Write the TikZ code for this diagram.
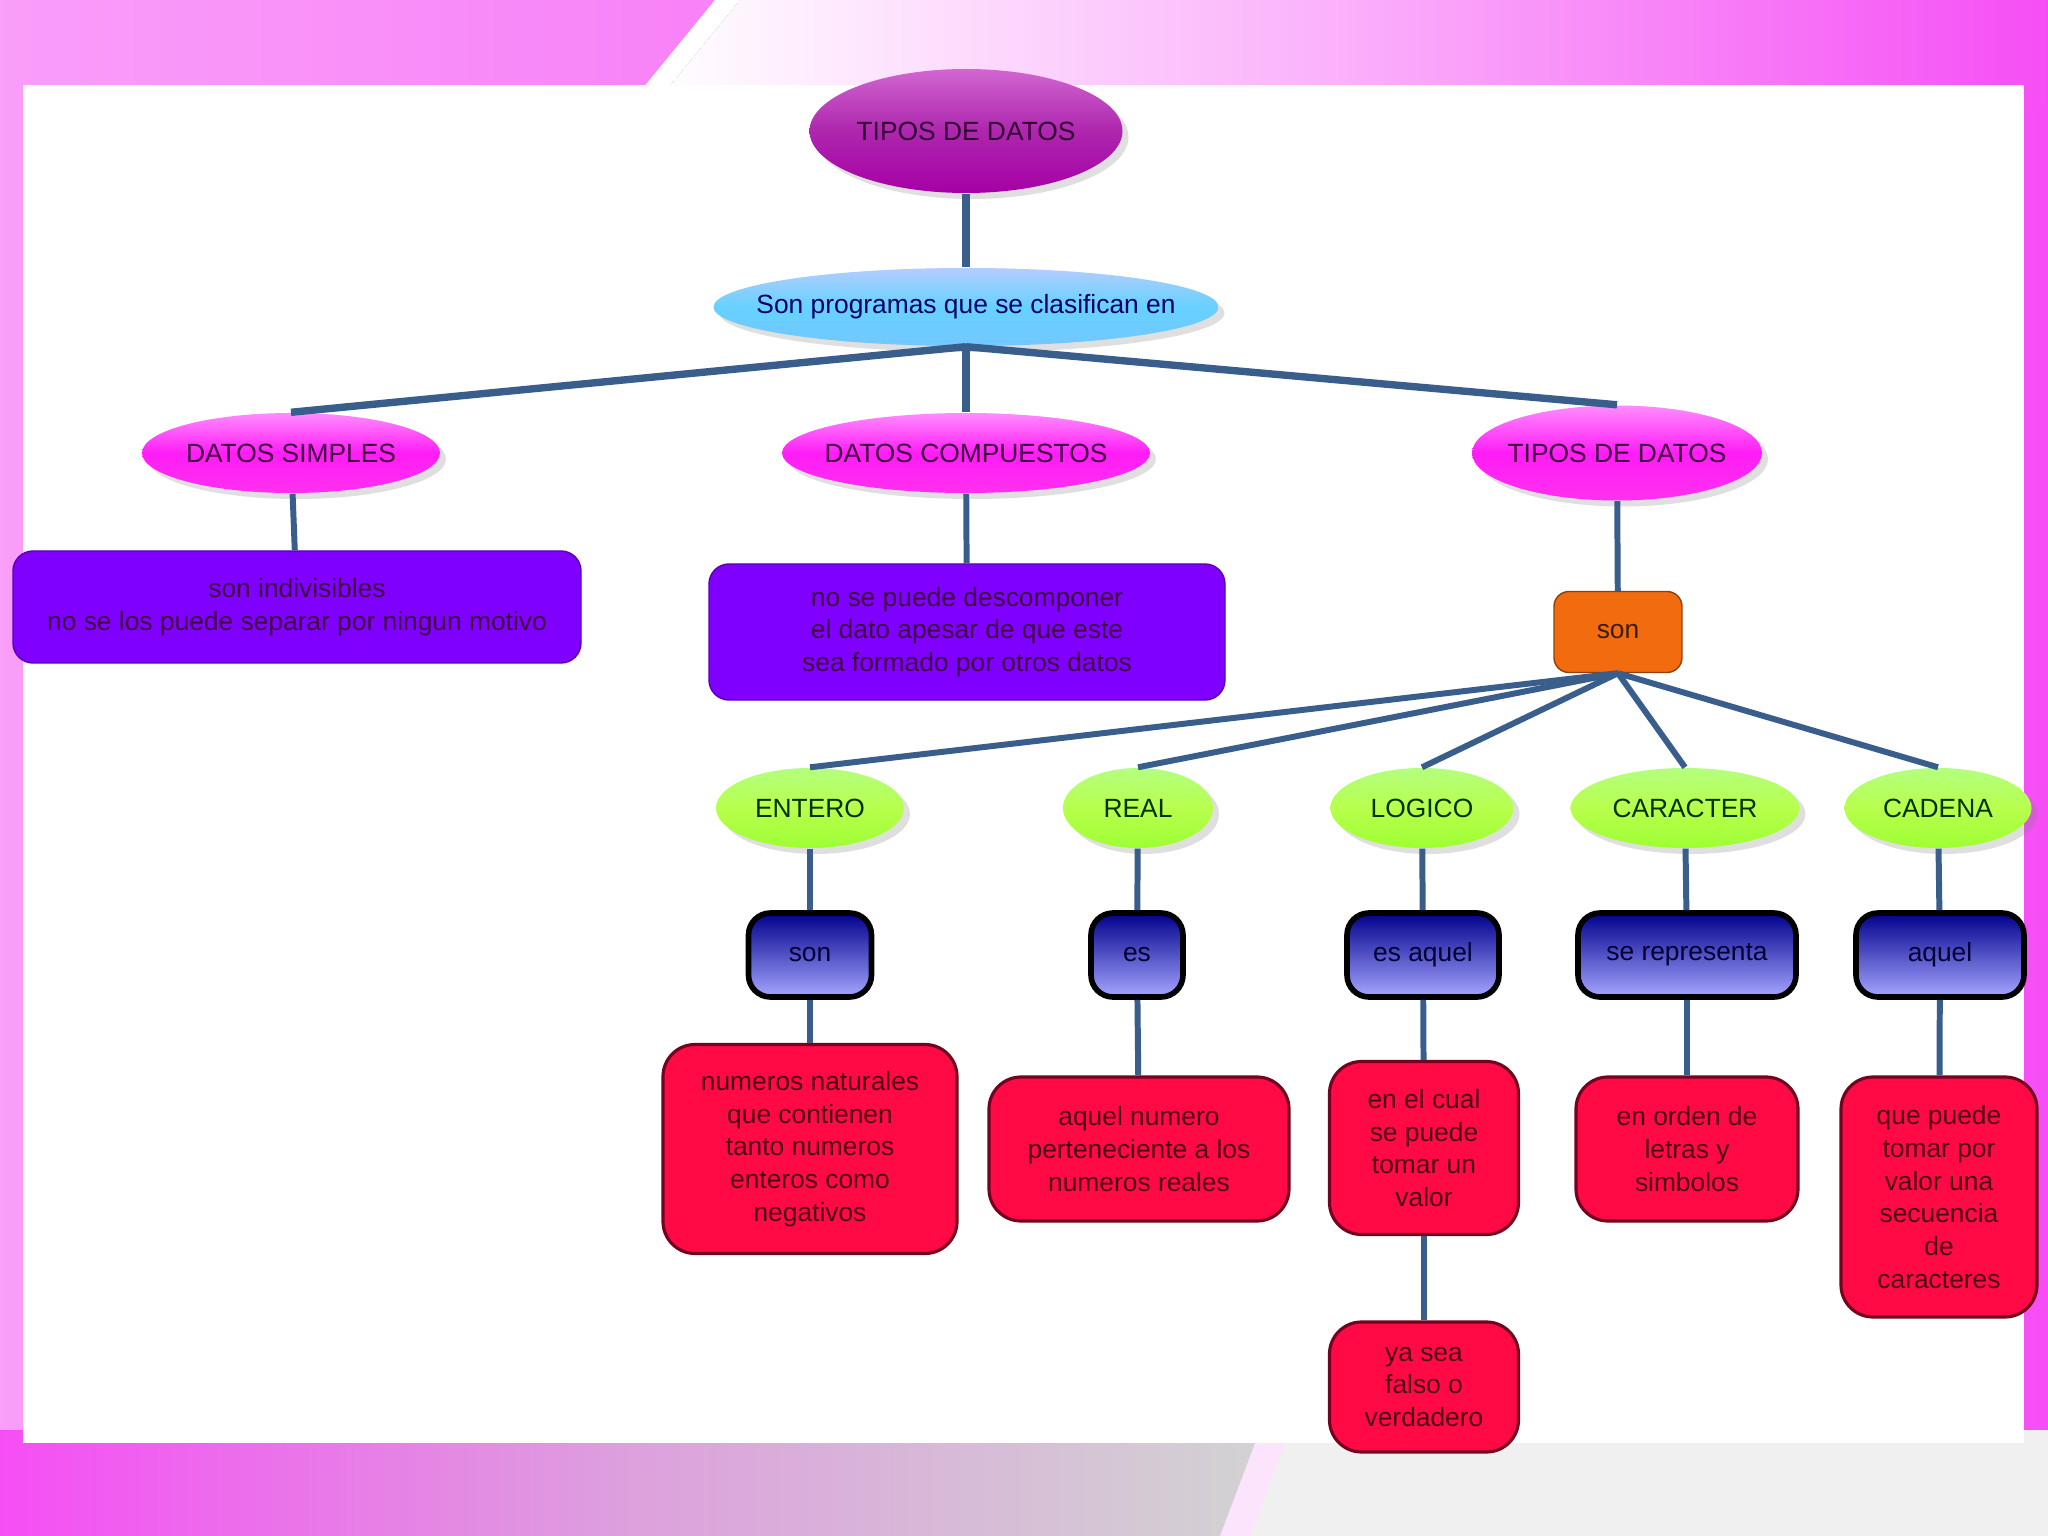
\documentclass[tikz,border=0pt]{standalone}
\usepackage{fontspec}
\setmainfont{Liberation Sans}
\usetikzlibrary{shapes.geometric,shadows}
\definecolor{linkblue}{HTML}{3A5E8C}
\definecolor{frame}{HTML}{F54EF5}
\definecolor{vio}{HTML}{7F00FF}
\definecolor{rojo}{HTML}{FF0A45}
\definecolor{naranja}{HTML}{F26B0F}

\tikzset{
  box/.style={font=\fontsize{7.5}{9.3}\selectfont, inner sep=0pt, align=center},
  glow/.style={drop shadow={opacity=.25,shadow xshift=.06,shadow yshift=-.06}},
  link/.style={draw=linkblue, line width=1.7pt},
  topell/.style={box, ellipse, glow, minimum width=3.13cm, minimum height=1.24cm,
    top color=violet!60!magenta!60, bottom color=violet!70!magenta, middle color=violet!75!magenta!85, text=violet!40!black},
  clsell/.style={box, ellipse, glow, inner xsep=-.4cm, minimum width=5.05cm, minimum height=.78cm,
    top color=cyan!35!blue!30, bottom color=cyan!60!blue!55, middle color=cyan!70!blue!60, text=blue!40!black},
  pinkell/.style={box, ellipse, glow, inner xsep=-.4cm, minimum height=.8cm,
    top color=magenta!45, bottom color=magenta!75!pink, middle color=magenta!85!pink, text=violet!50!black},
  greenell/.style={box, ellipse, glow, minimum height=.8cm,
    top color=lime!55!green!50, bottom color=lime!70!green!80, middle color=lime!80!green!70, text=green!20!black},
  violetbox/.style={box, rounded corners=.2cm, fill=vio, draw=vio!70!black, text=violet!50!black},
  sonbox/.style={box, rounded corners=.15cm, fill=naranja, draw=naranja!60!black, text=naranja!25!black},
  pill/.style={box, rounded corners=.22cm, draw=black, line width=1.6pt, minimum height=.84cm,
    top color=blue!55!black, middle color=blue!45!white!85!black, bottom color=blue!35!white, text=blue!20!black},
  redbox/.style={box, rounded corners=.32cm, fill=rojo, draw=rojo!45!black, line width=.9pt, text=rojo!30!black}
}

\begin{document}
\begin{tikzpicture}
  \useasboundingbox (0,0) rectangle (20.48,-15.36);
  \fill[left color=frame!55, right color=frame] (0,0) rectangle (20.48,-15.36);
  \fill[left color=white, right color=frame, middle color=frame!45] (7.4,0) -- (20.48,0) -- (20.48,-1.1) -- (6.5,-1.1) -- cycle;
  \fill[white] (7.15,0) -- (7.4,0) -- (6.5,-1.1) -- (6.25,-1.1) -- cycle;
  \fill[left color=frame, right color=gray!35, middle color=frame!60!gray!60] (0,-14.3) -- (12.6,-14.3) -- (12.2,-15.36) -- (0,-15.36) -- cycle;
  \fill[gray!12] (12.6,-14.3) -- (20.48,-14.3) -- (20.48,-15.36) -- (12.2,-15.36) -- cycle;
  \fill[white!85!frame] (12.6,-14.3) -- (12.9,-14.3) -- (12.5,-15.36) -- (12.2,-15.36) -- cycle;
  \fill[white] (.23,-.85) rectangle (20.24,-14.43);

  \node[topell] (top) at (9.66,-1.31) {TIPOS DE DATOS};
  \node[clsell] (cls) at (9.66,-3.07) {Son programas que se clasifican en};
  \node[pinkell, minimum width=2.98cm] (simp) at (2.91,-4.53) {DATOS SIMPLES};
  \node[pinkell, minimum width=3.68cm] (comp) at (9.66,-4.53) {DATOS COMPUESTOS};
  \node[pinkell, minimum width=2.90cm, minimum height=.95cm] (tipos) at (16.17,-4.53) {TIPOS DE DATOS};

  \node[violetbox, minimum width=5.68cm, minimum height=1.12cm] (simpdesc) at (2.97,-6.07)
    {son indivisibles\\no se los puede separar por ningun motivo};
  \node[violetbox, minimum width=5.16cm, minimum height=1.36cm] (compdesc) at (9.67,-6.32)
    {no se puede descomponer\\el dato apesar de que este\\sea formado por otros datos};
  \node[sonbox, minimum width=1.28cm, minimum height=.81cm] (son) at (16.18,-6.32) {son};

  \node[greenell, minimum width=1.88cm] (entero) at (8.10,-8.08) {ENTERO};
  \node[greenell, minimum width=1.50cm] (real) at (11.38,-8.08) {REAL};
  \node[greenell, minimum width=1.83cm] (logico) at (14.22,-8.08) {LOGICO};
  \node[greenell, minimum width=2.29cm] (caracter) at (16.85,-8.08) {CARACTER};
  \node[greenell, minimum width=1.87cm] (cadena) at (19.38,-8.08) {CADENA};

  \node[pill, minimum width=1.23cm] (vsoni) at (8.10,-9.55) {son};
  \node[pill, minimum width=.92cm] (ves) at (11.37,-9.55) {es};
  \node[pill, minimum width=1.52cm] (vesaquel) at (14.23,-9.55) {es aquel};
  \node[pill, minimum width=2.18cm] (vrepr) at (16.87,-9.55) {se representa};
  \node[pill, minimum width=1.68cm] (vaquel) at (19.40,-9.55) {aquel};

  \node[redbox, minimum width=2.94cm, minimum height=2.09cm] (rentero) at (8.10,-11.49)
    {numeros naturales\\que contienen\\tanto numeros\\enteros como\\negativos};
  \node[redbox, minimum width=3.00cm, minimum height=1.44cm] (rreal) at (11.39,-11.49)
    {aquel numero\\perteneciente a los\\numeros reales};
  \node[redbox, minimum width=1.89cm, minimum height=1.73cm] (rlogico) at (14.24,-11.48)
    {en el cual\\se puede\\tomar un\\valor};
  \node[redbox, minimum width=2.22cm, minimum height=1.44cm] (rcaracter) at (16.87,-11.49)
    {en orden de\\letras y\\simbolos};
  \node[redbox, minimum width=1.96cm, minimum height=2.40cm] (rcadena) at (19.39,-11.97)
    {que puede\\tomar por\\valor una\\secuencia\\de\\caracteres};
  \node[redbox, minimum width=1.89cm, minimum height=1.30cm] (ryasea) at (14.24,-13.87)
    {ya sea\\falso o\\verdadero};

  \draw[link, line width=2.1pt] (top) -- (cls);
  \draw[link, line width=2.1pt] (cls.south) -- (simp.north);
  \draw[link, line width=2.1pt] (cls.south) -- (comp.north);
  \draw[link, line width=2.1pt] (cls.south) -- (tipos.north);
  \draw[link] (simp) -- (simpdesc);
  \draw[link] (comp) -- (compdesc);
  \draw[link] (tipos) -- (son);
  \draw[link] (son.south) -- (entero.north);
  \draw[link] (son.south) -- (real.north);
  \draw[link] (son.south) -- (logico.north);
  \draw[link] (son.south) -- (caracter.north);
  \draw[link] (son.south) -- (cadena.north);
  \draw[link] (entero) -- (vsoni);
  \draw[link] (real) -- (ves);
  \draw[link] (logico) -- (vesaquel);
  \draw[link] (caracter) -- (vrepr);
  \draw[link] (cadena) -- (vaquel);
  \draw[link] (vsoni) -- (rentero);
  \draw[link] (ves) -- (rreal);
  \draw[link] (vesaquel) -- (rlogico);
  \draw[link] (vrepr) -- (rcaracter);
  \draw[link] (vaquel) -- (rcadena);
  \draw[link] (rlogico) -- (ryasea);
\end{tikzpicture}
\end{document}
